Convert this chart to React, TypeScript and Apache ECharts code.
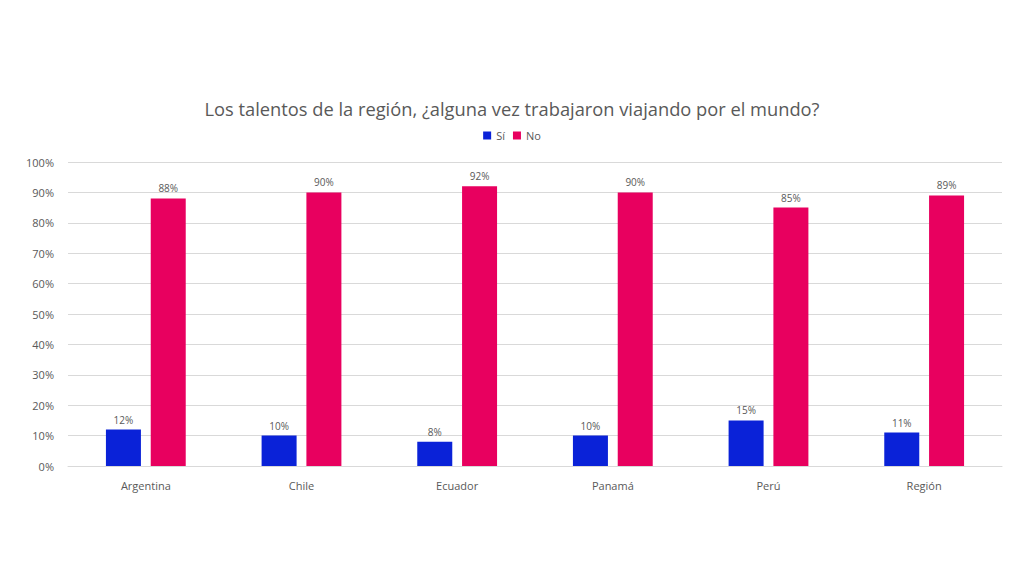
import { useEffect, useRef } from "react";
import * as echarts from "echarts";

const categories = ["Argentina", "Chile", "Ecuador", "Panamá", "Perú", "Región"];
const siValues = [12, 10, 8, 10, 15, 11];
const noValues = [88, 90, 92, 90, 85, 89];

const FONT = "'Open Sans', 'Noto Sans', sans-serif";

export default function App() {
  const chartRef = useRef<HTMLDivElement>(null);

  useEffect(() => {
    if (!chartRef.current) return;
    const chart = echarts.init(chartRef.current, null, { renderer: "svg" });

    const label = {
      show: true,
      position: "top",
      formatter: "{c}%",
      color: "#595959",
      fontSize: 10,
      fontFamily: FONT,
      distance: 5,
    };

    chart.setOption({
      animation: false,
      backgroundColor: "#ffffff",
      textStyle: { fontFamily: FONT },
      title: {
        text: "Los talentos de la región, ¿alguna vez trabajaron viajando por el mundo?",
        left: "center",
        top: 86,
        textStyle: { color: "#595959", fontSize: 18.3, fontWeight: "normal", fontFamily: FONT },
      },
      legend: {
        top: 117,
        left: "center",
        itemWidth: 8,
        itemHeight: 8,
        itemGap: 8,
        icon: "rect",
        textStyle: { color: "#595959", fontSize: 11, fontFamily: FONT },
        data: ["Sí", "No"],
      },
      grid: { left: 60, right: 14, top: 154, bottom: 102, containLabel: false },
      xAxis: {
        type: "category",
        data: categories,
        axisTick: { show: false },
        axisLine: { lineStyle: { color: "#d9d9d9" } },
        axisLabel: { color: "#595959", fontSize: 11, margin: 14, fontFamily: FONT },
      },
      yAxis: {
        type: "value",
        min: 0,
        max: 100,
        interval: 10,
        axisLabel: { formatter: "{value}%", color: "#595959", fontSize: 11, margin: 14, fontFamily: FONT },
        splitLine: { lineStyle: { color: "#d9d9d9" } },
        axisLine: { show: false },
        axisTick: { show: false },
      },
      series: [
        {
          name: "Sí",
          type: "bar",
          data: siValues,
          barWidth: 35,
          barGap: "28%",
          itemStyle: { color: "#0a22d8" },
          label,
        },
        {
          name: "No",
          type: "bar",
          data: noValues,
          barWidth: 35,
          itemStyle: { color: "#e8005f" },
          label,
        },
      ],
    });

    return () => chart.dispose();
  }, []);

  return <div ref={chartRef} style={{ width: 1008, height: 560 }} />;
}
